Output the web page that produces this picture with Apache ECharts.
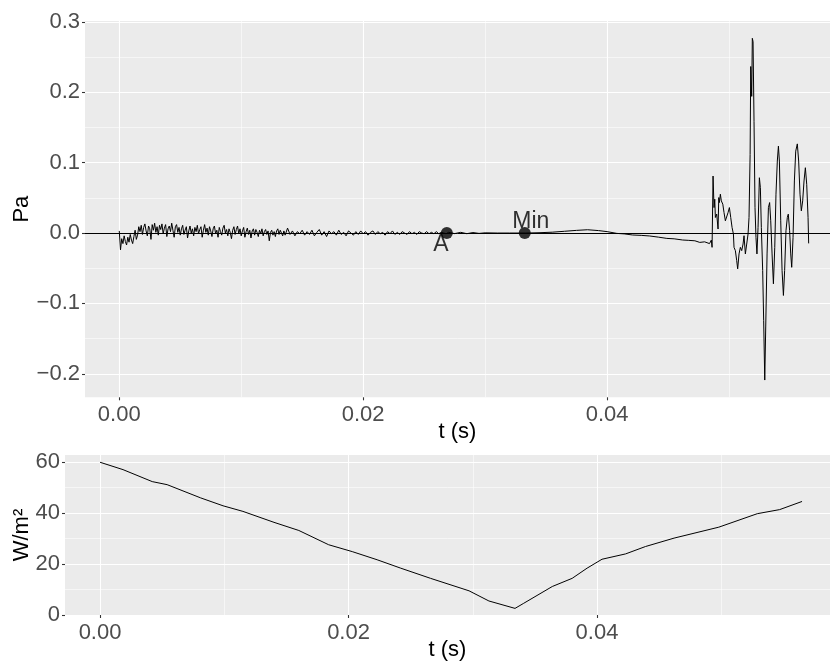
<!DOCTYPE html>
<html>
<head>
<meta charset="UTF-8">
<title>Pa / intensity</title>
<script type="text/javascript" src="https://cdn.jsdelivr.net/npm/echarts@6/dist/echarts.min.js"></script>
<style>
  html, body { margin: 0; padding: 0; background: #fff; }
</style>
</head>
<body>
    <div id="main" style="width: 830px;height:662px;"></div>
    <script type="text/javascript">
    // pressure, noisiest start: one sample every stepA seconds from t = 0
    var stepA = 0.0001;
    var noiseA = [
        0.003, -0.024, -0.008, -0.015, -0.004, -0.012, -0.017, -0.006, -0.013, -0.002,
        -0.010, -0.015, -0.005, 0.004, -0.009, -0.003, 0.009, 0.002, 0.011, -0.002,
        0.008, 0.013, 0.003, -0.004, 0.010, 0.006, -0.009, 0.012, 0.004, 0.014,
        0.001, 0.009, -0.003, 0.011, 0.005, 0.013, -0.001, 0.007, 0.012, -0.005,
        0.006, 0.010, 0.002, 0.014, 0.004, -0.006, 0.009, 0.012, 0.001, 0.008,
        -0.003, 0.006, 0.011, -0.002, 0.004, 0.009, -0.007, 0.003, 0.010, 0.000,
        0.006, -0.004, 0.008, 0.002, 0.011, -0.001, 0.005, 0.009, -0.006, 0.004,
        0.012, 0.001, 0.007, -0.003, 0.009, 0.003, -0.005, 0.006, 0.010, -0.001,
        0.004, -0.006, 0.008, 0.002, -0.003, 0.007, 0.011, 0.000, 0.005, -0.004,
        0.006, 0.001, -0.008, 0.004, 0.009, -0.002, 0.005, 0.010, -0.001, 0.006,
        -0.004, 0.003, 0.008, -0.006, 0.002, 0.007, -0.002, 0.004, -0.007, 0.003,
        0.006, -0.003, 0.005, 0.001, -0.005, 0.004, -0.001, 0.006, -0.004, 0.002,
        0.005, -0.002, 0.003, -0.011, 0.001, 0.004, -0.003, 0.002, -0.005, 0.003,
        0.006, -0.002, 0.004, 0.000, -0.004, 0.003
    ];
    // then one sample every stepB seconds from startB
    var startB = 0.0136, stepB = 0.0002;
    var noiseB = [
        -0.003, 0.007, -0.002, 0.003, -0.004, 0.002, -0.001, 0.004, -0.003, 0.002,
        -0.002, 0.004, -0.004, 0.001, 0.005, -0.003, 0.002, -0.005, 0.003, -0.001,
        0.002, -0.003, 0.004, -0.002, 0.001, -0.004, 0.003, 0.000, -0.003, 0.002,
        -0.002, 0.003, -0.001, 0.002, -0.003, 0.001, 0.003, -0.002, 0.002, -0.001,
        0.001, -0.003, 0.002, -0.001, 0.003, -0.002, 0.001, -0.002, 0.002, 0.000,
        -0.002, 0.002, -0.001, 0.001, -0.002, 0.002, 0.000, -0.001, 0.002, -0.001,
        0.001, -0.001, 0.002, -0.001, 0.001, 0.000, -0.001, 0.001
    ];
    // pressure after the noisy part: [t (s), Pa]
    var tailPa = [
        [0.0275, -0.0008], [0.0280, 0.0010], [0.0285, -0.0009], [0.0290, 0.0007], [0.0295, -0.0005],
        [0.0300, 0.0003], [0.0310, 0.0000], [0.0320, 0.0000], [0.0333, 0.0000], [0.0345, 0.0005],
        [0.0355, 0.0012], [0.0365, 0.0025], [0.0375, 0.0038], [0.0384, 0.0047], [0.0393, 0.0035],
        [0.0400, 0.0020], [0.0408, -0.0005], [0.0414, -0.0012], [0.0421, -0.0028], [0.0428, -0.0033],
        [0.0435, -0.0042], [0.0442, -0.0058], [0.0449, -0.0076], [0.0455, -0.0082], [0.0462, -0.0099],
        [0.0467, -0.0104], [0.0472, -0.0110], [0.0476, -0.0133], [0.0480, -0.0125], [0.0484, -0.0150],
        [0.04855, -0.0100], [0.04861, -0.0203],
        [0.04869, 0.0810], [0.04877, 0.0362], [0.04883, 0.0481], [0.04888, 0.0221], [0.04899, 0.0269],
        [0.04910, 0.0057], [0.04916, 0.0504], [0.04921, 0.0433], [0.04929, 0.0552], [0.04937, 0.0457],
        [0.04949, 0.0410], [0.04959, 0.0291], [0.04970, 0.0174], [0.04981, 0.0198], [0.04992, 0.0291],
        [0.05003, 0.0362], [0.05014, 0.0221], [0.05025, 0.0079], [0.05036, -0.0014], [0.05041, -0.0203],
        [0.05052, -0.0250], [0.05063, -0.0392], [0.05071, -0.0509], [0.05082, -0.0297], [0.05093, -0.0203],
        [0.05104, -0.0250], [0.05115, -0.0156], [0.05123, -0.0038], [0.05134, -0.0297], [0.05145, -0.0156],
        [0.05156, -0.0014], [0.05164, 0.0221], [0.05173, 0.1117], [0.05178, 0.2366], [0.05186, 0.1942],
        [0.05191, 0.2767], [0.05197, 0.2720], [0.05205, 0.1588], [0.05213, 0.0362], [0.05221, -0.0062],
        [0.05229, -0.0297], [0.05238, 0.0079], [0.05249, 0.0786], [0.05257, 0.0645], [0.05265, 0.0079],
        [0.05276, -0.0533], [0.05284, -0.1240], [0.05293, -0.2089], [0.05301, -0.1335], [0.05312, -0.0297],
        [0.05323, 0.0362], [0.05333, 0.0433], [0.05342, 0.0174], [0.05353, -0.0297], [0.05364, -0.0721],
        [0.05375, -0.0203], [0.05385, 0.0552], [0.05396, 0.1023], [0.05405, 0.1235], [0.05413, 0.1023],
        [0.05424, 0.0174], [0.05435, -0.0533], [0.05446, -0.0887], [0.05456, -0.0533], [0.05467, 0.0033],
        [0.05478, 0.0221], [0.05486, 0.0269], [0.05497, 0.0033], [0.05506, -0.0297], [0.05514, -0.0487],
        [0.05525, -0.0062], [0.05536, 0.0740], [0.05547, 0.1164], [0.05560, 0.1267], [0.05571, 0.1023],
        [0.05582, 0.0552], [0.05593, 0.0315], [0.05604, 0.0457], [0.05615, 0.0740], [0.05626, 0.0928],
        [0.05637, 0.0693], [0.05648, 0.0221], [0.05653, -0.0147]
    ];
    // marked points on the pressure plot
    var markT = [0.02686, 0.03325];
    var markPa = [0, 0];
    var markNames = ['A', 'Min'];

    // intensity (bottom plot)
    var intensityT = [0, 0.00185, 0.0042, 0.0054, 0.0081, 0.0099, 0.0115, 0.0140, 0.0160, 0.0184,
        0.0203, 0.0223, 0.0242, 0.0266, 0.0297, 0.0313, 0.0334, 0.0341, 0.0364, 0.0380,
        0.0392, 0.0404, 0.0423, 0.0439, 0.0462, 0.0498, 0.0529, 0.0547, 0.0565];
    var intensityW = [60.0, 57.1, 52.4, 51.2, 46.0, 42.9, 40.7, 36.4, 33.2, 27.6,
        24.9, 21.7, 18.4, 14.4, 9.5, 5.5, 2.6, 4.6, 11.2, 14.4,
        18.4, 21.9, 24.0, 26.9, 30.2, 34.5, 39.8, 41.4, 44.6];

    var xTicks = [0, 0.02, 0.04];
    var paTicks = [-0.2, -0.1, 0, 0.1, 0.2, 0.3];
    var wTicks = [0, 20, 40, 60];

    var pressureData = [];
    for (var i = 0; i < noiseA.length; i++) {
        pressureData.push([+(i * stepA).toFixed(5), noiseA[i]]);
    }
    for (var j = 0; j < noiseB.length; j++) {
        pressureData.push([+(startB + j * stepB).toFixed(5), noiseB[j]]);
    }
    pressureData = pressureData.concat(tailPa);

    var markData = markT.map(function (t, i) {
        return {
            value: [t, markPa[i]],
            label: {
                show: true,
                formatter: markNames[i],
                position: 'inside',
                offset: i === 0 ? [-6, 12] : [6, -11]
            }
        };
    });

    var intensityData = intensityT.map(function (t, i) { return [t, intensityW[i]]; });

    var font = 'Liberation Sans, Arial, sans-serif';
    var fmtX = function (v) { return v.toFixed(2); };
    var fmtPa = function (v) { return v.toFixed(1).replace('-', '\u2212'); };

    function xAxisFor(grid, min, max, gap) {
        return {
            type: 'value', gridIndex: grid, min: min, max: max, splitNumber: 3,
            name: 't (s)', nameLocation: 'middle', nameGap: gap, nameMoveOverlap: false,
            nameTextStyle: { fontFamily: font, fontSize: 22, color: '#000' },
            axisLine: { show: false, onZero: false },
            axisTick: { show: true, length: 3, customValues: xTicks, lineStyle: { color: '#333', width: 1.1 } },
            axisLabel: { customValues: xTicks, formatter: fmtX, margin: 7, fontFamily: font, fontSize: 22, color: '#4D4D4D' },
            splitLine: { show: true, lineStyle: { color: '#fff', width: 1.1 } },
            minorTick: { show: false, splitNumber: 2 },
            minorSplitLine: { show: true, lineStyle: { color: '#fff', width: 0.55 } }
        };
    }
    function yAxisFor(grid, min, max, split, ticks, fmt, name, gap) {
        return {
            type: 'value', gridIndex: grid, min: min, max: max, splitNumber: split,
            name: name, nameLocation: 'middle', nameGap: gap, nameMoveOverlap: false,
            nameTextStyle: { fontFamily: font, fontSize: 22, color: '#000' },
            axisLine: { show: false, onZero: false },
            axisTick: { show: true, length: 3, customValues: ticks, lineStyle: { color: '#333', width: 1.1 } },
            axisLabel: { customValues: ticks, formatter: fmt, margin: 5, fontFamily: font, fontSize: 22, color: '#4D4D4D' },
            splitLine: { show: true, lineStyle: { color: '#fff', width: 1.1 } },
            minorTick: { show: false, splitNumber: 2 },
            minorSplitLine: { show: true, lineStyle: { color: '#fff', width: 0.55 } }
        };
    }

    var myChart = echarts.init(document.getElementById('main'));
    var option = {
        animation: false,
        backgroundColor: '#fff',
        grid: [
            { left: 85, right: 0, top: 21, bottom: 264.7, outerBoundsMode: 'none', containLabel: false,
              show: true, backgroundColor: '#EBEBEB', borderWidth: 0 },
            { left: 65, right: 0, top: 455, bottom: 47, outerBoundsMode: 'none', containLabel: false,
              show: true, backgroundColor: '#EBEBEB', borderWidth: 0 }
        ],
        xAxis: [
            xAxisFor(0, -0.00281, 0.05828, 24),
            xAxisFor(1, -0.00282, 0.05875, 24)
        ],
        yAxis: [
            yAxisFor(0, -0.2334, 0.3013, 5, paTicks, fmtPa, 'Pa', 52),
            yAxisFor(1, 0, 62.85, 3, wTicks, function (v) { return String(v); }, 'W/m\u00B2', 32)
        ],
        series: [
            {
                name: 'Pa', type: 'line', xAxisIndex: 0, yAxisIndex: 0,
                data: pressureData, showSymbol: false, z: 3,
                lineStyle: { color: '#000', width: 1 },
                markLine: {
                    silent: true, symbol: 'none', label: { show: false },
                    lineStyle: { color: '#000', width: 1, type: 'solid' },
                    data: [{ yAxis: 0 }]
                }
            },
            {
                name: 'marks', type: 'scatter', xAxisIndex: 0, yAxisIndex: 0,
                data: markData, symbolSize: 12, z: 4,
                itemStyle: { color: '#000' },
                label: { fontFamily: font, fontSize: 23, color: '#000' }
            },
            {
                name: 'W/m2', type: 'line', xAxisIndex: 1, yAxisIndex: 1,
                data: intensityData, showSymbol: false,
                lineStyle: { color: '#000', width: 1 }
            }
        ]
    };
    myChart.setOption(option);
    </script>
</body>
</html>
